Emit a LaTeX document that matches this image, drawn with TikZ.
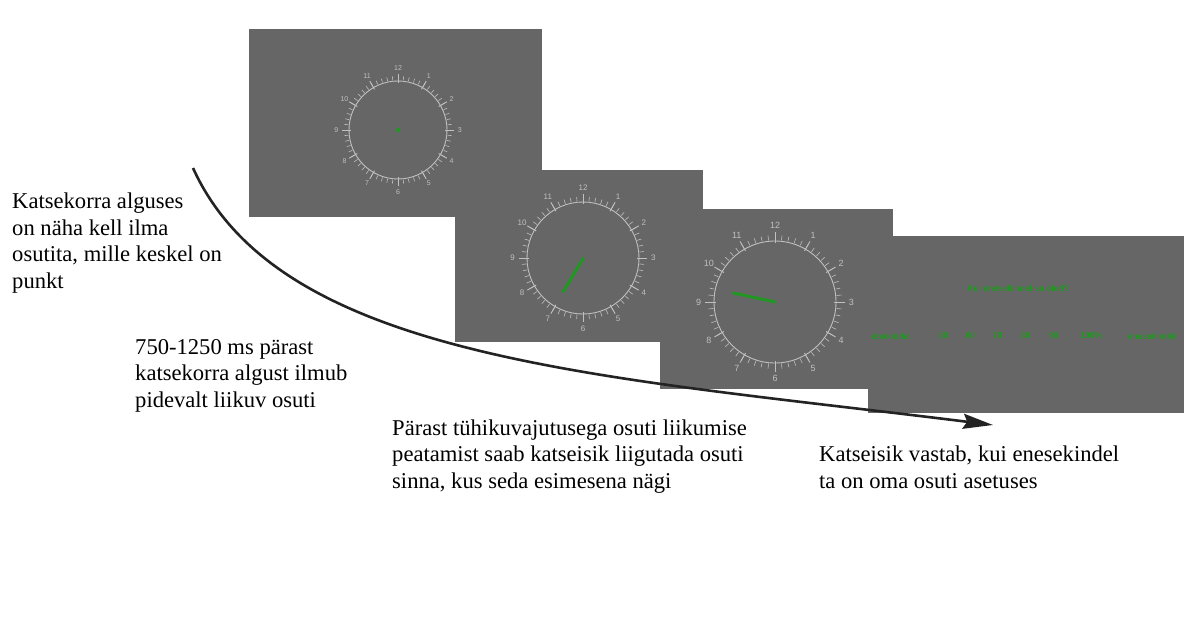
\documentclass[tikz,border=0pt]{standalone}
\usepackage{fontspec}
\setmainfont{Liberation Serif}
\setsansfont{Liberation Sans}
\usetikzlibrary{arrows.meta}

\definecolor{screen}{RGB}{102,102,102}
\definecolor{dial}{RGB}{192,192,192}
\definecolor{handgreen}{RGB}{34,150,34}
\definecolor{arrowink}{RGB}{35,35,35}

% one clock face: #1 = centre, #2 = radius, #3 = numeral size
% (y grows downwards here, so 12 o'clock sits at -90 degrees)
\newcommand\dialface[3]{%
  \begin{scope}[shift={#1}]
    \draw[dial, line width=0.9pt] (0,0) circle (#2);
    \foreach \m in {0,...,59}{
      \draw[dial, line width=0.6pt] (6*\m-90:#2+1) -- (6*\m-90:#2*1.08+1);
    }
    \foreach \h in {1,...,12}{
      \draw[dial, line width=0.9pt] (30*\h-90:#2-2) -- (30*\h-90:#2*1.13+1);
      \node[dial, font=\sffamily\fontsize{#3}{#3}\selectfont, inner sep=0pt]
        at (30*\h-90:#2*1.22+2) {\h};
    }
  \end{scope}}

\tikzset{
  panel/.style={fill=screen, draw=none},
  caption/.style={font=\fontsize{22.6}{26.5}\selectfont, align=left,
    anchor=base west, inner sep=0pt, text=black},
  hand/.style={handgreen, line width=3pt, line cap=round},
  scaletext/.style={handgreen, font=\sffamily\bfseries\fontsize{8.5}{8.5}\selectfont, inner sep=0pt},
  flow/.style={arrowink, line width=2.6pt,
    -{Stealth[length=30pt, width=15pt, inset=4pt]}}
}

\begin{document}
\begin{tikzpicture}[x=1pt, y=-1pt]
  \useasboundingbox[fill=white] (0,0) rectangle (1184,634);

  % four screens, each laid over the previous one
  \fill[panel] (249,29) rectangle (542,217);
  \dialface{(398,130)}{49}{7}
  \fill[handgreen] (398,130) circle (2.2);

  \fill[panel] (455,170) rectangle (703,342);
  \dialface{(583,258)}{56}{8}
  \coordinate (c2) at (583,258);
  \draw[hand] (c2) -- ++(121:39);

  \fill[panel] (660,209) rectangle (893,389);
  \dialface{(775,302)}{61}{9}
  \coordinate (c3) at (775,302);
  \draw[hand] (c3) -- ++(192:43);

  \fill[panel] (868,236) rectangle (1184,413);
  \node[scaletext] (q) at (1018,288) {Kui enesekindel sa oled?};
  \node[scaletext] (s0) at (891,336) {ebakindel};
  \node[scaletext] (s1) at (943,336) {50};
  \node[scaletext] (s2) at (970,336) {60};
  \node[scaletext] (s3) at (997,336) {70};
  \node[scaletext] (s4) at (1025,336) {80};
  \node[scaletext] (s5) at (1053,336) {90};
  \node[scaletext] (s6) at (1091,336) {100\%};
  \node[scaletext] (s7) at (1152,336) {enesekindel};

  % timeline arrow
  \coordinate (tstart) at (193,168);
  \coordinate (tend) at (993,425);
  \draw[flow] (tstart) .. controls (280,360) and (600,376) .. (tend);

  % captions (base anchor = baseline of the last line)
  \node[caption] (t1) at (12,288) {Katsekorra alguses\\on näha kell ilma\\osutita, mille keskel on\\punkt};
  \node[caption] (t2) at (135,407) {750-1250 ms pärast\\katsekorra algust ilmub\\pidevalt liikuv osuti};
  \node[caption] (t3) at (392,488) {Pärast tühikuvajutusega osuti liikumise\\peatamist saab katseisik liigutada osuti\\sinna, kus seda esimesena nägi};
  \node[caption] (t4) at (819,488) {Katseisik vastab, kui enesekindel\\ta on oma osuti asetuses};
\end{tikzpicture}
\end{document}
